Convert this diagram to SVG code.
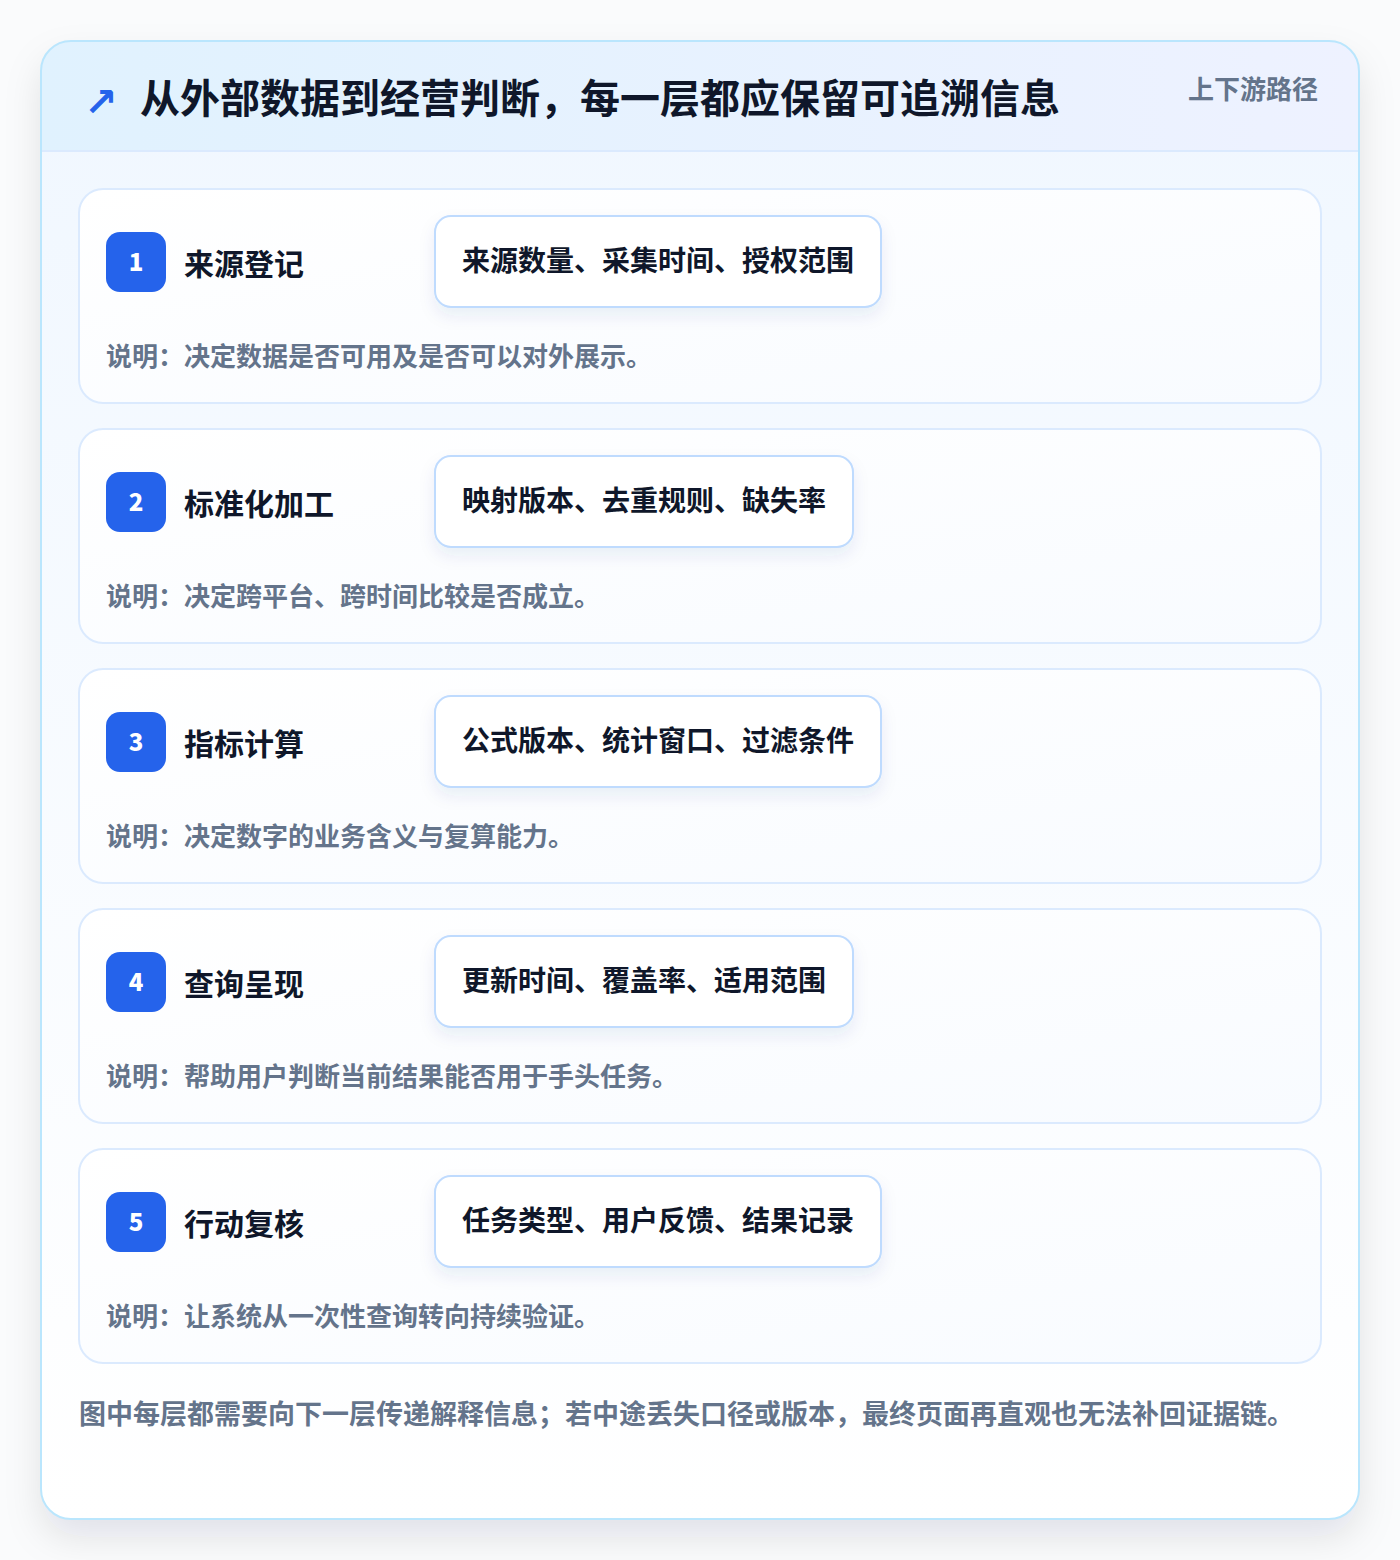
<svg xmlns="http://www.w3.org/2000/svg" width="1400" height="1560" viewBox="0 0 1400 1560">
<style>
text{font-family:"Noto Sans CJK SC","Noto Sans",sans-serif;font-weight:700}
.card{fill:url(#cardg);stroke:#dbeafe;stroke-width:2}
.badge{fill:#2563eb}
.num{fill:#ffffff;font-size:24px;text-anchor:middle;font-weight:900}
.title{fill:#0f172a;font-size:30px}
.chip{fill:#ffffff;stroke:#bfdbfe;stroke-width:2}
.chiptx{fill:#0f172a;font-size:28px}
.desc{fill:#64748b;font-size:26px}
</style>
<defs>
<linearGradient id="bodyg" x1="0" y1="0" x2="0" y2="1">
<stop offset="0" stop-color="#f0f7ff"/>
<stop offset="1" stop-color="#ffffff"/>
</linearGradient>
<linearGradient id="headg" x1="0" y1="0" x2="1" y2="0">
<stop offset="0" stop-color="#e0f2fe"/>
<stop offset="1" stop-color="#eef2ff"/>
</linearGradient>
<linearGradient id="cardg" x1="0" y1="0" x2="1" y2="1">
<stop offset="0" stop-color="#ffffff"/>
<stop offset="1" stop-color="#f8fbff"/>
</linearGradient>
<filter id="outer" x="-10%" y="-10%" width="120%" height="120%">
<feDropShadow dx="0" dy="18" stdDeviation="18" flood-color="#0f172a" flood-opacity="0.10"/>
</filter>
<filter id="chipsh" x="-10%" y="-30%" width="120%" height="170%">
<feDropShadow dx="0" dy="8" stdDeviation="8" flood-color="#1e3a8a" flood-opacity="0.08"/>
</filter>
<clipPath id="outerclip">
<rect x="41" y="41" width="1318" height="1478" rx="30"/>
</clipPath>
</defs>
<rect width="1400" height="1560" fill="#fafbfc"/>
<g id="frame">
<rect x="41" y="41" width="1318" height="1478" rx="30" fill="url(#bodyg)" filter="url(#outer)"/>
<g clip-path="url(#outerclip)">
<rect x="41" y="41" width="1318" height="110" fill="url(#headg)"/>
<line x1="41" y1="151" x2="1359" y2="151" stroke="#dbeafe" stroke-width="2"/>
</g>
<rect x="41" y="41" width="1318" height="1478" rx="30" fill="none" stroke="#bae6fd" stroke-width="2"/>
</g>
<g id="header">
<text x="84" y="116" fill="#2563eb" font-size="40" style="font-family:'DejaVu Sans',sans-serif">↗</text>
<text x="140" y="113" fill="#0f172a" font-size="40">从外部数据到经营判断，每一层都应保留可追溯信息</text>
<text x="1318" y="99" fill="#64748b" font-size="26" text-anchor="end">上下游路径</text>
</g>
<g id="connectors"/>
<g id="node1">
<rect class="card" x="79" y="189" width="1242" height="214" rx="24"/>
<rect class="badge" x="106" y="232" width="60" height="60" rx="14"/>
<text class="num" x="136" y="271">1</text>
<text class="title" x="184" y="275">来源登记</text>
<rect class="chip" x="435" y="216" width="446" height="91" rx="16" filter="url(#chipsh)"/>
<text class="chiptx" x="462" y="271">来源数量、采集时间、授权范围</text>
<text class="desc" x="106" y="366">说明：决定数据是否可用及是否可以对外展示。</text>
</g>
<g id="node2">
<rect class="card" x="79" y="429" width="1242" height="214" rx="24"/>
<rect class="badge" x="106" y="472" width="60" height="60" rx="14"/>
<text class="num" x="136" y="511">2</text>
<text class="title" x="184" y="515">标准化加工</text>
<rect class="chip" x="435" y="456" width="418" height="91" rx="16" filter="url(#chipsh)"/>
<text class="chiptx" x="462" y="511">映射版本、去重规则、缺失率</text>
<text class="desc" x="106" y="606">说明：决定跨平台、跨时间比较是否成立。</text>
</g>
<g id="node3">
<rect class="card" x="79" y="669" width="1242" height="214" rx="24"/>
<rect class="badge" x="106" y="712" width="60" height="60" rx="14"/>
<text class="num" x="136" y="751">3</text>
<text class="title" x="184" y="755">指标计算</text>
<rect class="chip" x="435" y="696" width="446" height="91" rx="16" filter="url(#chipsh)"/>
<text class="chiptx" x="462" y="751">公式版本、统计窗口、过滤条件</text>
<text class="desc" x="106" y="846">说明：决定数字的业务含义与复算能力。</text>
</g>
<g id="node4">
<rect class="card" x="79" y="909" width="1242" height="214" rx="24"/>
<rect class="badge" x="106" y="952" width="60" height="60" rx="14"/>
<text class="num" x="136" y="991">4</text>
<text class="title" x="184" y="995">查询呈现</text>
<rect class="chip" x="435" y="936" width="418" height="91" rx="16" filter="url(#chipsh)"/>
<text class="chiptx" x="462" y="991">更新时间、覆盖率、适用范围</text>
<text class="desc" x="106" y="1086">说明：帮助用户判断当前结果能否用于手头任务。</text>
</g>
<g id="node5">
<rect class="card" x="79" y="1149" width="1242" height="214" rx="24"/>
<rect class="badge" x="106" y="1192" width="60" height="60" rx="14"/>
<text class="num" x="136" y="1231">5</text>
<text class="title" x="184" y="1235">行动复核</text>
<rect class="chip" x="435" y="1176" width="446" height="91" rx="16" filter="url(#chipsh)"/>
<text class="chiptx" x="462" y="1231">任务类型、用户反馈、结果记录</text>
<text class="desc" x="106" y="1326">说明：让系统从一次性查询转向持续验证。</text>
</g>
<g id="footer">
<text x="79" y="1424" fill="#64748b" font-size="27">图中每层都需要向下一层传递解释信息；若中途丢失口径或版本，最终页面再直观也无法补回证据链。</text>
</g>
</svg>
